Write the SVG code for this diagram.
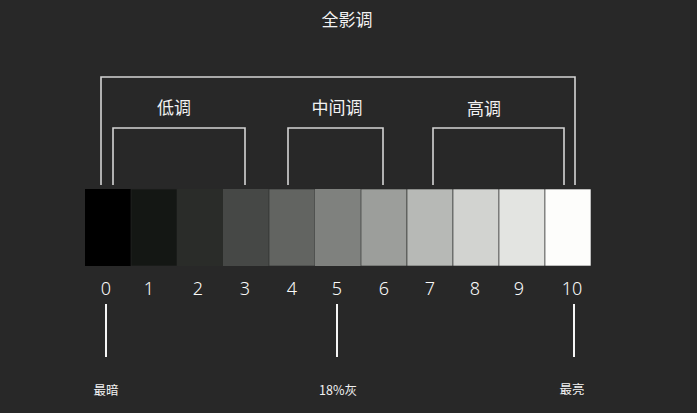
<svg xmlns="http://www.w3.org/2000/svg" width="697" height="413" viewBox="0 0 697 413">
<style>
.t{font-family:"Noto Sans CJK SC","Noto Sans",sans-serif;fill:#f2f2f2;text-anchor:middle}
.h{font-size:17px}
.n{font-size:18px;font-family:"Noto Sans","Noto Sans CJK SC",sans-serif;font-weight:300;fill:#fafafa}
.s{font-size:12.5px}
.br{fill:none;stroke:#d4d4d4;stroke-width:1.6}
.tick{stroke:#f5f5f5;stroke-width:2}
.c{stroke:#2a2a2a;stroke-width:0.6}
</style>
<rect width="697" height="413" fill="#282828"/>
<text class="t h" x="347" y="26">全影调</text>
<g id="brackets">
<g id="full"><polyline class="br" points="101,185 101,77 575,77 575,185"/></g>
<g id="low"><polyline class="br" points="113,185 113,128 245,128 245,185"/><text class="t h" x="174" y="114">低调</text></g>
<g id="mid"><polyline class="br" points="288,185 288,128 383,128 383,185"/><text class="t h" x="337" y="114">中间调</text></g>
<g id="high"><polyline class="br" points="433,185 433,128 564,128 564,185"/><text class="t h" x="484" y="115">高调</text></g>
</g>
<g id="scale">
<rect x="85" y="189" width="46" height="77" fill="#000000"/>
<rect class="c" x="131" y="189" width="46" height="77" fill="#141714"/>
<rect x="177" y="189" width="46" height="77" fill="#2a2c29"/>
<rect x="223" y="189" width="46" height="77" fill="#464846"/>
<rect class="c" x="269" y="189" width="46" height="77" fill="#626461"/>
<rect x="315" y="189" width="46" height="77" fill="#7f817e"/>
<rect class="c" x="361" y="189" width="46" height="77" fill="#9c9e9b"/>
<rect class="c" x="407" y="189" width="46" height="77" fill="#b7b9b6"/>
<rect class="c" x="453" y="189" width="46" height="77" fill="#d2d3d0"/>
<rect class="c" x="499" y="189" width="46" height="77" fill="#e3e4e1"/>
<rect class="c" x="545" y="189" width="46" height="77" fill="#fdfdfb"/>
</g>
<g id="numbers">
<text class="t n" x="106" y="295">0</text>
<text class="t n" x="149" y="295">1</text>
<text class="t n" x="198" y="295">2</text>
<text class="t n" x="245" y="295">3</text>
<text class="t n" x="292" y="295">4</text>
<text class="t n" x="337" y="295">5</text>
<text class="t n" x="384" y="295">6</text>
<text class="t n" x="430" y="295">7</text>
<text class="t n" x="475" y="295">8</text>
<text class="t n" x="519" y="295">9</text>
<text class="t n" x="572" y="295">10</text>
</g>
<g id="markers">
<line class="tick" x1="106" y1="304" x2="106" y2="357"/>
<line class="tick" x1="337" y1="304" x2="337" y2="357"/>
<line class="tick" x1="574" y1="304" x2="574" y2="357"/>
</g>
<g id="labels">
<text class="t s" x="106" y="395">最暗</text>
<text class="t s" x="338" y="395">18%灰</text>
<text class="t s" x="572" y="394">最亮</text>
</g>
</svg>
